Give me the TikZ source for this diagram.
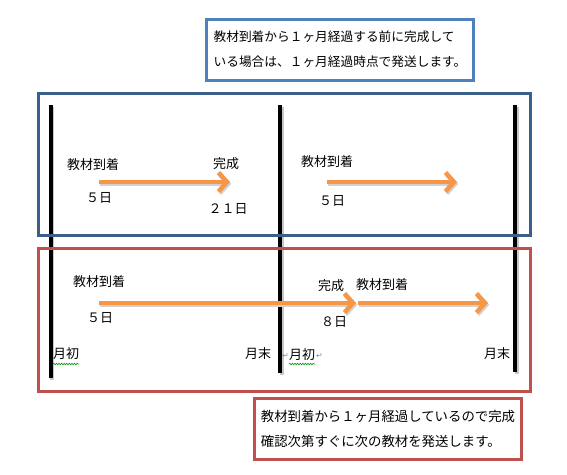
\documentclass[tikz,border=0pt]{standalone}
\usepackage{fontspec}
\setmainfont{Noto Sans CJK JP}
\newfontfamily\symfont{DejaVu Sans}
\usetikzlibrary{arrows.meta,decorations.pathmorphing}
\definecolor{arrowor}{HTML}{F79646}
\definecolor{bandblue}{HTML}{3A5F8B}
\definecolor{noteblue}{HTML}{4F81BD}
\definecolor{bandred}{HTML}{C0504D}
\begin{document}
\begin{tikzpicture}[x=1pt,y=-1pt,
  lbl/.style={font=\fontsize{13}{15}\selectfont, inner sep=0pt},
  timeline/.style={line width=4pt, black},
  tlshadow/.style={line width=4pt, black!22},
  band/.style={line width=3pt},
  flow/.style={line width=4.5pt, arrowor, -{Straight Barb[length=8.5pt,width=19pt]}},
  flowshadow/.style={line width=4.5pt, black!18, -{Straight Barb[length=8.5pt,width=19pt]}},
  notebox/.style={line width=3pt, fill=white, align=left, minimum width=267pt, minimum height=61pt,
    inner sep=0pt},
  wavy/.style={draw=green!60!black, line width=0.6pt, decorate, decoration={snake, amplitude=0.8pt, segment length=2.6pt}},
  retmark/.style={font=\symfont\fontsize{8}{9}\selectfont, text=black!45, inner sep=0pt},
]
\useasboundingbox (0,0) rectangle (567,474);
% timelines
\coordinate (l1t) at (50.5,105); \coordinate (l1b) at (50.5,378);
\coordinate (l2t) at (280,105);  \coordinate (l2b) at (280,373);
\coordinate (l3t) at (515,105);  \coordinate (l3b) at (515,372);
\foreach \t/\b in {l1t/l1b,l2t/l2b,l3t/l3b}{
  \draw[tlshadow] ([xshift=1.5pt,yshift=-1.5pt]\t) -- ([xshift=1.5pt,yshift=-1.5pt]\b);
  \draw[timeline] (\t) -- (\b);
}
% bands
\draw[band, bandblue] (38.5,93.5) rectangle (530.5,235);
\draw[band, bandred] (38.5,248.5) rectangle (530.5,391);
% arrows
\coordinate (a1s) at (99,182);  \coordinate (a1e) at (230,182);
\coordinate (a2s) at (327,182); \coordinate (a2e) at (457,182);
\coordinate (b1s) at (99,303);  \coordinate (b1e) at (356,303);
\coordinate (b2s) at (358,303); \coordinate (b2e) at (488,303);
\foreach \s/\e in {a1s/a1e,a2s/a2e,b1s/b1e,b2s/b2e}{
  \draw[flowshadow] ([xshift=1.2pt,yshift=-1.8pt]\s) -- ([xshift=1.2pt,yshift=-1.8pt]\e);
  \draw[flow] (\s) -- (\e);
}
% labels
\node[lbl] (arr1) at (93,165) {教材到着};
\node[lbl] (d1) at (99,198) {５日};
\node[lbl] (done1) at (226,164) {完成};
\node[lbl] (d21) at (228,209) {２１日};
\node[lbl] (arr2) at (327,162) {教材到着};
\node[lbl] (d2) at (332,201) {５日};
\node[lbl] (arr3) at (99,282) {教材到着};
\node[lbl] (d3) at (100,318) {５日};
\node[lbl] (done2) at (331,286) {完成};
\node[lbl] (arr4) at (382,285) {教材到着};
\node[lbl] (d8) at (334,322) {８日};
\node[lbl] (start1) at (66,354) {月初};
\node[lbl] (end1) at (258,354) {月末};
\node[lbl] (start2) at (302,355) {月初};
\node[lbl] (end2) at (497,354) {月末};
\node[retmark] (rm1) at (285.5,356) {↵};
\node[retmark] (rm2) at (319.5,356) {↵};
\draw[wavy] (53,364) -- (79,364);
\draw[wavy] (289,364) -- (315,364);
% notes
\node[notebox, draw=noteblue, font=\fontsize{12.7}{25}\selectfont] (note1) at (340,49.5)
  {教材到着から１ヶ月経過する前に完成して\\いる場合は、１ヶ月経過時点で発送します。};
\node[notebox, draw=bandred, font=\fontsize{13.4}{25}\selectfont] (note2) at (388,428.5)
  {教材到着から１ヶ月経過しているので完成\\確認次第すぐに次の教材を発送します。};
\end{tikzpicture}
\end{document}
